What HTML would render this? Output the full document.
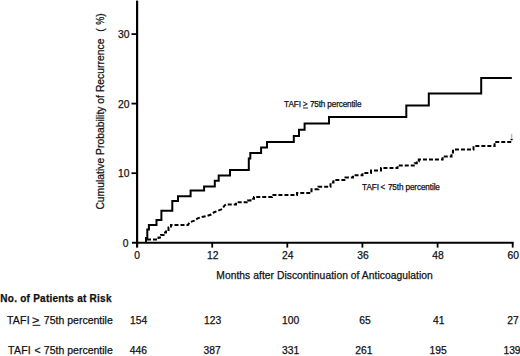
<!DOCTYPE html>
<html><head><meta charset="utf-8">
<style>
html,body{margin:0;padding:0;background:#fff;width:520px;height:356px;overflow:hidden}
svg{display:block}
text{font-family:"Liberation Sans",sans-serif;fill:#111;stroke:#111;stroke-width:0.25px}
</style></head>
<body>
<svg width="520" height="356" viewBox="0 0 520 356">
<!-- axes -->
<g stroke="#000" fill="none">
<line x1="137.1" y1="0.6" x2="137.1" y2="247.6" stroke-width="2.2"/>
<line x1="132" y1="242.7" x2="513.6" y2="242.7" stroke-width="2.1"/>
<!-- y ticks -->
<line x1="131.5" y1="173.2" x2="137" y2="173.2" stroke-width="1.8"/>
<line x1="131.5" y1="103.6" x2="137" y2="103.6" stroke-width="1.8"/>
<line x1="131.5" y1="34.1" x2="137" y2="34.1" stroke-width="1.8"/>
<!-- x ticks -->
<line x1="212.2" y1="242.7" x2="212.2" y2="247.6" stroke-width="1.8"/>
<line x1="287.3" y1="242.7" x2="287.3" y2="247.6" stroke-width="1.8"/>
<line x1="362.4" y1="242.7" x2="362.4" y2="247.6" stroke-width="1.8"/>
<line x1="437.6" y1="242.7" x2="437.6" y2="247.6" stroke-width="1.8"/>
<line x1="512.7" y1="242.7" x2="512.7" y2="247.6" stroke-width="1.8"/>
</g>
<!-- solid curve -->
<path fill="none" stroke="#000" stroke-width="2" stroke-linejoin="miter" d="M146,242.7 V238 H147.3 V229.5 H148.9 V224.9 H156.5 V220 H161.4 V210.7 H172.3 V201 H178 V196.2 H190.6 V190.6 H204.1 V186.5 H214.8 V180.8 H218.7 V175.5 H230 V170 H248.8 V158.6 H250.3 V153 H261.1 V147.6 H267 V142 H293.8 V136 H299 V129.8 H304.6 V123.6 H329 V116.9 H406.3 V105.6 H428.8 V93.6 H481.2 V78 H511.8"/>
<!-- dashed curve -->
<path fill="none" stroke="#000" stroke-width="2" stroke-dasharray="4 2" d="M147,239.5 H158.5 V237.5 H161 V235 H163.5 V232.5 H166 V230 H168.5 V227.5 H171 V225 H188 L189.5,222.3 L194.3,220.6 L197.6,218.4 L201.8,216.9 L206.6,216 L211.1,214.5 L214.2,212.2 L217.8,210.8 L222.1,209.1 L224.6,205.5 L226,204.4 H236 V202.3 H248 V200.6 H250.5 V198.8 H254 V196.9 H272 V195.1 H297 V192.9 H311.5 V189.2 H318.5 V186.8 H330.5 V182.5 H333.5 V180 H345.5 V177.5 H353 V175.2 H362.5 V173 H371 V170.6 H381 V168.1 H397.5 V165.4 H414.8 V163.2 H416.8 V161.2 H418.8 V159.6 H442.6 V156.4 H451.5 V152.5 H453 V149.6 H473.5 V146 H494.6 V141.9 H511.6 V138.8"/>
<line x1="511.6" y1="138.8" x2="511.6" y2="133.8" stroke="#bbb" stroke-width="1.5"/>

<!-- y tick labels -->
<g font-size="10.3" text-anchor="end">
<text x="128.6" y="246.9">0</text>
<text x="129.4" y="177.2">10</text>
<text x="129.4" y="107.6">20</text>
<text x="129.4" y="38.1">30</text>
</g>
<!-- x tick labels -->
<g font-size="10.3" text-anchor="middle">
<text x="137.2" y="258.7">0</text>
<text x="212.7" y="258.7">12</text>
<text x="287.8" y="258.7">24</text>
<text x="362.9" y="258.7">36</text>
<text x="438.1" y="258.7">48</text>
<text x="513.2" y="258.7">60</text>
</g>
<text x="216.3" y="279.2" font-size="10.3" textLength="216.5" lengthAdjust="spacing">Months after Discontinuation of Anticoagulation</text>
<g transform="translate(104.4,209.6) rotate(-90)" font-size="10.3">
<text x="0" y="0" textLength="171" lengthAdjust="spacing">Cumulative Probability of Recurrence</text>
<text x="177.8" y="0">(</text>
<text x="184.8" y="0" textLength="8" lengthAdjust="spacingAndGlyphs">%</text>
<text x="192.8" y="0">)</text>
</g>

<!-- in-plot labels -->
<g font-size="8.2">
<text x="284.1" y="106.6" textLength="16.9" lengthAdjust="spacing">TAFI</text>
<text x="302.7" y="106.6">&gt;</text>
<line x1="303" y1="108" x2="308" y2="108" stroke="#111" stroke-width="0.9"/>
<text x="309.9" y="106.6" textLength="51.6" lengthAdjust="spacing">75th percentile</text>
<text x="362.1" y="190.4" textLength="17" lengthAdjust="spacing">TAFI</text>
<text x="380.6" y="190.4">&lt;</text>
<text x="387.9" y="190.4" textLength="52" lengthAdjust="spacing">75th percentile</text>
</g>

<!-- risk table -->
<text x="0.3" y="301.6" font-size="10" font-weight="bold" textLength="111.2" lengthAdjust="spacing">No. of Patients at Risk</text>
<g font-size="10.5">
<text x="6.9" y="323.9" textLength="22.8" lengthAdjust="spacing">TAFI</text>
<text x="32" y="324.5" transform="translate(32 0) scale(1.2 1) translate(-32 0)">&gt;</text>
<line x1="32.6" y1="325.3" x2="40.4" y2="325.3" stroke="#111" stroke-width="1"/>
<text x="43.8" y="323.9" textLength="69" lengthAdjust="spacing">75th percentile</text>
<text x="8.1" y="353.7" textLength="22.6" lengthAdjust="spacing">TAFI</text>
<text x="34.6" y="353.7">&lt;</text>
<text x="43.8" y="353.7" textLength="69" lengthAdjust="spacing">75th percentile</text>
</g>
<g font-size="10.3" text-anchor="middle">
<text x="138.6" y="323.6">154</text>
<text x="212.6" y="323.6">123</text>
<text x="290.7" y="323.6">100</text>
<text x="365.1" y="323.6">65</text>
<text x="438.7" y="323.6">41</text>
<text x="513.1" y="323.6">27</text>
<text x="138.4" y="354.1">446</text>
<text x="212.2" y="354.1">387</text>
<text x="290.7" y="354.1">331</text>
<text x="363.9" y="354.1">261</text>
<text x="438.2" y="354.1">195</text>
<text x="512" y="354.1">139</text>
</g>
</svg>
</body></html>
